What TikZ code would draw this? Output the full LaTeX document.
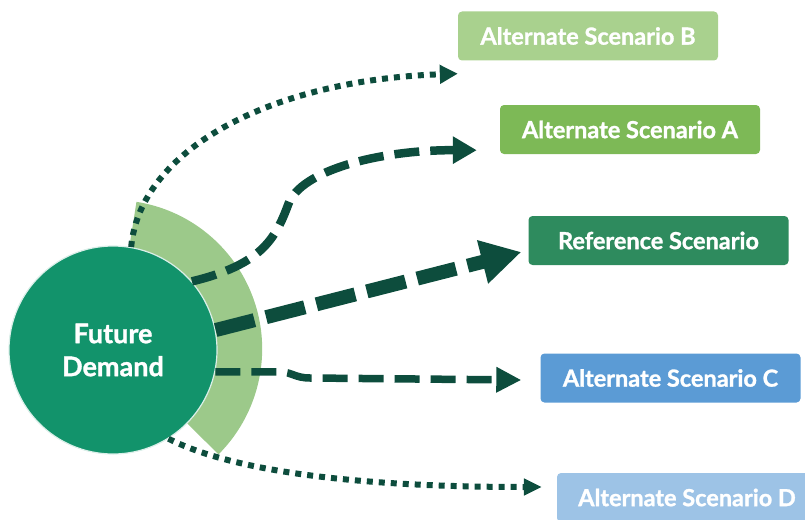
\documentclass[tikz,border=0pt]{standalone}
\usepackage{fontspec}
\setmainfont{Lato}[BoldFeatures={FakeBold=1.2}]
\usepackage{tikz}
\usetikzlibrary{arrows.meta}

\definecolor{demandgreen}{HTML}{12936B}
\definecolor{wedgegreen}{HTML}{9CC98A}
\definecolor{arrowgreen}{HTML}{0D4D3D}
\definecolor{boxB}{HTML}{A9D18E}
\definecolor{boxA}{HTML}{7DB956}
\definecolor{boxRef}{HTML}{2E8B5E}
\definecolor{boxC}{HTML}{5B9BD5}
\definecolor{boxD}{HTML}{9DC3E6}

\tikzset{
  scenario/.style={rectangle, rounded corners=4pt, text=white,
    minimum width=260pt, minimum height=49pt, inner sep=0pt,
    font=\fontsize{23.5}{28}\selectfont\bfseries},
  dotline/.style={arrowgreen, line width=6pt, dash pattern=on 6pt off 6pt},
  dashline/.style={arrowgreen, line width=8.5pt, dash pattern=on 25pt off 11pt}
}

\begin{document}
\begin{tikzpicture}[x=1pt, y=-1pt]
        \useasboundingbox (0,0) rectangle (805,519);

        \coordinate (ctr) at (113,350);
        \fill [wedgegreen] (ctr) ++(81:150pt) arc[start angle=81, end angle=-45, radius=149pt] -- (ctr) -- cycle;

        \node [circle, fill=demandgreen, draw=white!85!demandgreen, line width=1.2pt,
               minimum size=208pt, inner sep=0pt, text=white, align=center,
               font=\fontsize{27}{33}\selectfont\bfseries] (demand) at (ctr) {Future\\Demand};

        \node [scenario, fill=boxB] (scenB) at (588,36) {Alternate Scenario B};
        \node [scenario, fill=boxA] (scenA) at (630,129.5) {Alternate Scenario A};
        \node [scenario, fill=boxRef] (scenRef) at (658.5,240.5) {Reference Scenario};
        \node [scenario, fill=boxC] (scenC) at (670.5,378) {Alternate Scenario C};
        \node [scenario, fill=boxD] (scenD) at (687,497.5) {Alternate Scenario D};

        % arrow tips just left of the boxes
        \coordinate (tipB) at ([yshift=-13pt]scenB.south west);
        \coordinate (tipA) at ([xshift=-23pt,yshift=4pt]scenA.south west);
        \coordinate (tipRef) at ([xshift=-7pt,yshift=-11.5pt]scenRef.west);
        \coordinate (tipC) at ([xshift=-19pt,yshift=-2pt]scenC.west);
        \coordinate (tipD) at ([xshift=-15pt,yshift=10.5pt]scenD.west);

        \draw [dotline, -{Triangle[length=18pt,width=18pt]}] (demand.80) .. controls (140,150) and (270,80) .. (tipB);
        \draw [dashline, -{Triangle[length=24pt,width=26pt]}] (demand.41) .. controls (260,265) and (275,240) .. (288,205)
              .. controls (300,170) and (380,150) .. (tipA);
        \draw [arrowgreen, line width=14pt, dash pattern=on 40pt off 12pt, -{Triangle[length=40pt,width=42pt]}] (demand.11) -- (tipRef);
        \draw [dashline, line width=7.5pt, -{Triangle[length=25pt,width=24pt]}] (demand.-12) -- (280,372)
              .. controls (292,372) and (295,378) .. (310,378) -- (tipC);
        \draw [dotline, -{Triangle[length=18pt,width=16pt]}] (demand.-58) .. controls (230,470) and (350,487) .. (tipD);
\end{tikzpicture}
\end{document}
